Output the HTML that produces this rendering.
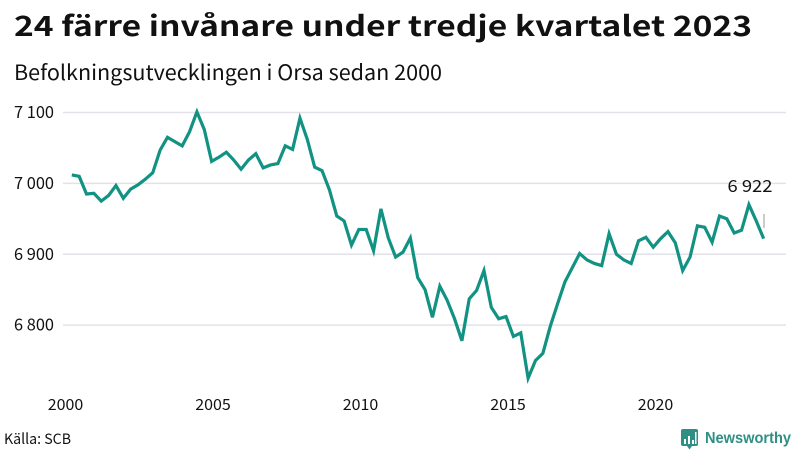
<!DOCTYPE html>
<html lang="sv">
<head>
<meta charset="utf-8">
<title>24 färre invånare under tredje kvartalet 2023</title>
<style>
html,body{margin:0;padding:0;background:#fff;}
body{width:800px;height:450px;overflow:hidden;}
svg{display:block;font-family:"Noto Sans CJK SC","Liberation Sans",sans-serif;fill:#111;}
</style>
</head>
<body>
<svg id="chart" width="800" height="450" viewBox="0 0 800 450" xmlns="http://www.w3.org/2000/svg">
  <rect x="0" y="0" width="800" height="450" fill="#ffffff"/>
  <text x="14" y="36" font-size="28" font-weight="700" textLength="738" lengthAdjust="spacingAndGlyphs">24 färre invånare under tredje kvartalet 2023</text>
  <text x="14" y="80" font-size="21" textLength="428" lengthAdjust="spacingAndGlyphs">Befolkningsutvecklingen i Orsa sedan 2000</text>
  <g id="grid"></g>
  <g id="xaxis"></g>
  <g id="series"></g>
  <rect x="763.5" y="214" width="1" height="14" fill="#999999"/>
  <text id="last-label" x="750" y="192" font-size="17" text-anchor="middle" textLength="45" lengthAdjust="spacingAndGlyphs"></text>
  <text x="4" y="444" font-size="14.500" textLength="67" lengthAdjust="spacingAndGlyphs">Källa: SCB</text>
  <g>
    <path d="M683 429h13a2 2 0 0 1 2 2v13a2 2 0 0 1-2 2h-4l-2.500 3.500-2.500-3.500h-4a2 2 0 0 1-2-2v-13a2 2 0 0 1 2-2z" fill="#2f8f85"/>
    <rect x="684" y="439" width="2" height="5" fill="#fff"/>
    <rect x="688" y="436" width="2" height="8" fill="#fff"/>
    <rect x="692" y="440" width="2" height="4" fill="#fff"/>
    <rect x="695" y="432" width="1.500" height="12" fill="#fff"/>
    <text x="705" y="443" font-family="Liberation Sans, sans-serif" font-size="16" font-weight="700" fill="#2f8f85" textLength="86" lengthAdjust="spacingAndGlyphs">Newsworthy</text>
  </g>
</svg>
<script>
const categories = [
"2000Q1","2000Q2","2000Q3","2000Q4","2001Q1","2001Q2","2001Q3","2001Q4","2002Q1","2002Q2","2002Q3","2002Q4",
"2003Q1","2003Q2","2003Q3","2003Q4","2004Q1","2004Q2","2004Q3","2004Q4","2005Q1","2005Q2","2005Q3","2005Q4",
"2006Q1","2006Q2","2006Q3","2006Q4","2007Q1","2007Q2","2007Q3","2007Q4","2008Q1","2008Q2","2008Q3","2008Q4",
"2009Q1","2009Q2","2009Q3","2009Q4","2010Q1","2010Q2","2010Q3","2010Q4","2011Q1","2011Q2","2011Q3","2011Q4",
"2012Q1","2012Q2","2012Q3","2012Q4","2013Q1","2013Q2","2013Q3","2013Q4","2014Q1","2014Q2","2014Q3","2014Q4",
"2015Q1","2015Q2","2015Q3","2015Q4","2016Q1","2016Q2","2016Q3","2016Q4","2017Q1","2017Q2","2017Q3","2017Q4",
"2018Q1","2018Q2","2018Q3","2018Q4","2019Q1","2019Q2","2019Q3","2019Q4","2020Q1","2020Q2","2020Q3","2020Q4",
"2021Q1","2021Q2","2021Q3","2021Q4","2022Q1","2022Q2","2022Q3","2022Q4","2023Q1","2023Q2","2023Q3"];
const population = [
7012,7010,6985,6986,6975,6983,6997,6979,6992,6998,7006,7015,
7047,7065,7059,7053,7073,7101,7076,7031,7037,7044,7033,7020,
7033,7042,7022,7026,7028,7053,7048,7092,7062,7023,7018,6991,
6954,6947,6913,6935,6935,6905,6964,6923,6896,6903,6923,6867,
6850,6811,6855,6835,6809,6778,6837,6849,6877,6825,6809,6812,
6784,6789,6725,6750,6760,6798,6830,6861,6881,6901,6892,6887,
6884,6929,6900,6892,6887,6919,6924,6910,6922,6932,6916,6877,
6896,6940,6938,6917,6954,6950,6930,6934,6970,6947,6922];
const yTicks = [6800,6900,7000,7100];
const yTickLabels = ["6 800","6 900","7 000","7 100"];
const xTicks = [2000,2005,2010,2015,2020];
const xTickLabels = ["2000","2005","2010","2015","2020"];
const lastValueLabel = "6 922";

const SVG_NS = "http://www.w3.org/2000/svg";
function yScale(v){ return 183.4 + (7000 - v) * 0.7085; }
function xScale(i){ return 71.8 + i * 7.36; }
function xTickScale(year){ return 65.5 + (year - 2000) * 29.5; }

const grid = document.getElementById("grid");
yTicks.forEach(function(t, i){
  const line = document.createElementNS(SVG_NS, "line");
  
  
  line.setAttribute("x1", 63);
  line.setAttribute("x2", 786);
  line.setAttribute("y1", yScale(t));
  line.setAttribute("y2", yScale(t));
  line.setAttribute("stroke", "#e2e2e8");
  line.setAttribute("stroke-width", 1.5);
  grid.appendChild(line);
  const label = document.createElementNS(SVG_NS, "text");
  
  
  label.setAttribute("x", 14);
  label.setAttribute("y", yScale(t) + 5.5);
  label.setAttribute("font-size", 16.5);
  label.setAttribute("textLength", 40);
  label.setAttribute("lengthAdjust", "spacingAndGlyphs");
  label.textContent = yTickLabels[i];
  grid.appendChild(label);
});

const xaxis = document.getElementById("xaxis");
xTicks.forEach(function(t, i){
  const label = document.createElementNS(SVG_NS, "text");
  
  
  label.setAttribute("x", xTickScale(t));
  label.setAttribute("y", 410);
  label.setAttribute("font-size", 15);
  label.setAttribute("text-anchor", "middle");
  label.setAttribute("textLength", 35.5);
  label.setAttribute("lengthAdjust", "spacingAndGlyphs");
  label.textContent = xTickLabels[i];
  xaxis.appendChild(label);
});

const series = document.getElementById("series");
const path = document.createElementNS(SVG_NS, "path");


path.setAttribute("d", population.map(function(v, i){
  return (i ? "L" : "M") + xScale(i).toFixed(2) + " " + yScale(v).toFixed(2);
}).join(""));
path.setAttribute("fill", "none");
path.setAttribute("stroke", "#129282");
path.setAttribute("stroke-width", 3.2);
path.setAttribute("stroke-linejoin", "miter");
series.appendChild(path);

document.getElementById("last-label").textContent = lastValueLabel;
</script>
</body>
</html>
